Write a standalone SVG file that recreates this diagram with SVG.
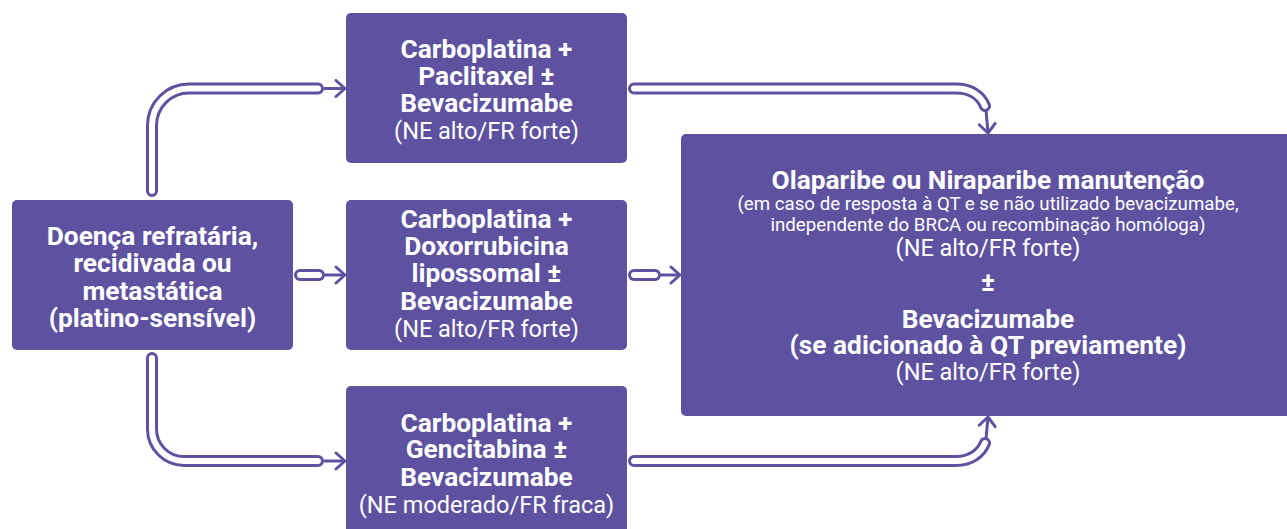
<svg xmlns="http://www.w3.org/2000/svg" width="1287" height="529" viewBox="0 0 1287 529">
<defs>
<style>
.box{fill:#5e52a0;}
.t{font-family:Roboto,"Liberation Sans",sans-serif;fill:#ffffff;text-anchor:middle;}
.b{font-weight:bold;font-size:26.3px;}
.r{font-weight:normal;font-size:23.5px;}
.s{font-weight:normal;font-size:18.7px;}
.tubeo{fill:none;stroke:#5e52a0;stroke-width:12;stroke-linecap:round;stroke-linejoin:round;}
.tubei{fill:none;stroke:#ffffff;stroke-width:6;stroke-linecap:round;stroke-linejoin:round;}
.arr{fill:none;stroke:#5e52a0;stroke-width:3;marker-end:url(#ah);}
</style>
<marker id="ah" markerUnits="userSpaceOnUse" markerWidth="14" markerHeight="20" viewBox="0 0 14 20" refX="11" refY="10" orient="auto">
<path d="M2,2 L11,10 L2,18" fill="none" stroke="#5e52a0" stroke-width="3" stroke-linecap="round" stroke-linejoin="round"/>
</marker>
</defs>
<rect width="1287" height="529" fill="#ffffff"/>

<g id="connectors">
<path id="c1" class="tubeo" d="M152,191 V125 A37,37 0 0 1 189,88.5 H318"/>
<path class="tubei" d="M152,191 V125 A37,37 0 0 1 189,88.5 H318"/>
<line class="arr" x1="324" y1="88.5" x2="345" y2="88.5"/>

<path id="c2" class="tubeo" d="M300,275 H319"/>
<path class="tubei" d="M300,275 H319"/>
<line class="arr" x1="325" y1="275" x2="345" y2="275"/>

<path id="c3" class="tubeo" d="M152,358 V429 A32,32 0 0 0 184,461 H318"/>
<path class="tubei" d="M152,358 V429 A32,32 0 0 0 184,461 H318"/>
<line class="arr" x1="324" y1="461" x2="345" y2="461"/>

<path id="c4" class="tubeo" d="M634,88.5 H956 C971,88.5 981,96 985,106"/>
<path class="tubei" d="M634,88.5 H956 C971,88.5 981,96 985,106"/>
<line class="arr" x1="986" y1="110" x2="988" y2="133"/>

<path id="c5" class="tubeo" d="M634,275 H655"/>
<path class="tubei" d="M634,275 H655"/>
<line class="arr" x1="661" y1="275" x2="680" y2="275"/>

<path id="c6" class="tubeo" d="M634,461 H956 C971,461 981,453 985,443"/>
<path class="tubei" d="M634,461 H956 C971,461 981,453 985,443"/>
<line class="arr" x1="986" y1="439" x2="988" y2="417"/>
</g>

<g id="n_doenca">
<rect class="box" x="12" y="200" width="281" height="150" rx="5"/>
<text class="t b" x="152.5" y="245">Doença refratária,</text>
<text class="t b" x="152.5" y="272">recidivada ou</text>
<text class="t b" x="152.5" y="299.5">metastática</text>
<text class="t b" x="152.5" y="326.5">(platino-sensível)</text>
</g>

<g id="n_paclitaxel">
<rect class="box" x="346" y="13" width="281" height="150" rx="5"/>
<text class="t b" x="486.5" y="58">Carboplatina +</text>
<text class="t b" x="486.5" y="85">Paclitaxel ±</text>
<text class="t b" x="486.5" y="112">Bevacizumabe</text>
<text class="t r" x="486.5" y="139">(NE alto/FR forte)</text>
</g>

<g id="n_doxorrubicina">
<rect class="box" x="346" y="200" width="281" height="150" rx="5"/>
<text class="t b" x="486.5" y="228">Carboplatina +</text>
<text class="t b" x="486.5" y="255">Doxorrubicina</text>
<text class="t b" x="486.5" y="282">lipossomal ±</text>
<text class="t b" x="486.5" y="309.5">Bevacizumabe</text>
<text class="t r" x="486.5" y="337">(NE alto/FR forte)</text>
</g>

<g id="n_gencitabina">
<rect class="box" x="346" y="386" width="281" height="150" rx="5"/>
<text class="t b" x="486.5" y="431.5">Carboplatina +</text>
<text class="t b" x="486.5" y="458">Gencitabina ±</text>
<text class="t b" x="486.5" y="486">Bevacizumabe</text>
<text class="t r" x="486.5" y="513">(NE moderado/FR fraca)</text>
</g>

<g id="n_manutencao">
<rect class="box" x="681" y="134" width="620" height="282" rx="5"/>
<text class="t b" x="988" y="189">Olaparibe ou Niraparibe manutenção</text>
<text class="t s" x="988" y="210">(em caso de resposta à QT e se não utilizado bevacizumabe,</text>
<text class="t s" x="988" y="231">independente do BRCA ou recombinação homóloga)</text>
<text class="t r" x="988" y="256">(NE alto/FR forte)</text>
<text class="t b" x="988" y="291">±</text>
<text class="t b" x="988" y="327.5">Bevacizumabe</text>
<text class="t b" x="988" y="354">(se adicionado à QT previamente)</text>
<text class="t r" x="988" y="380">(NE alto/FR forte)</text>
</g>
</svg>
